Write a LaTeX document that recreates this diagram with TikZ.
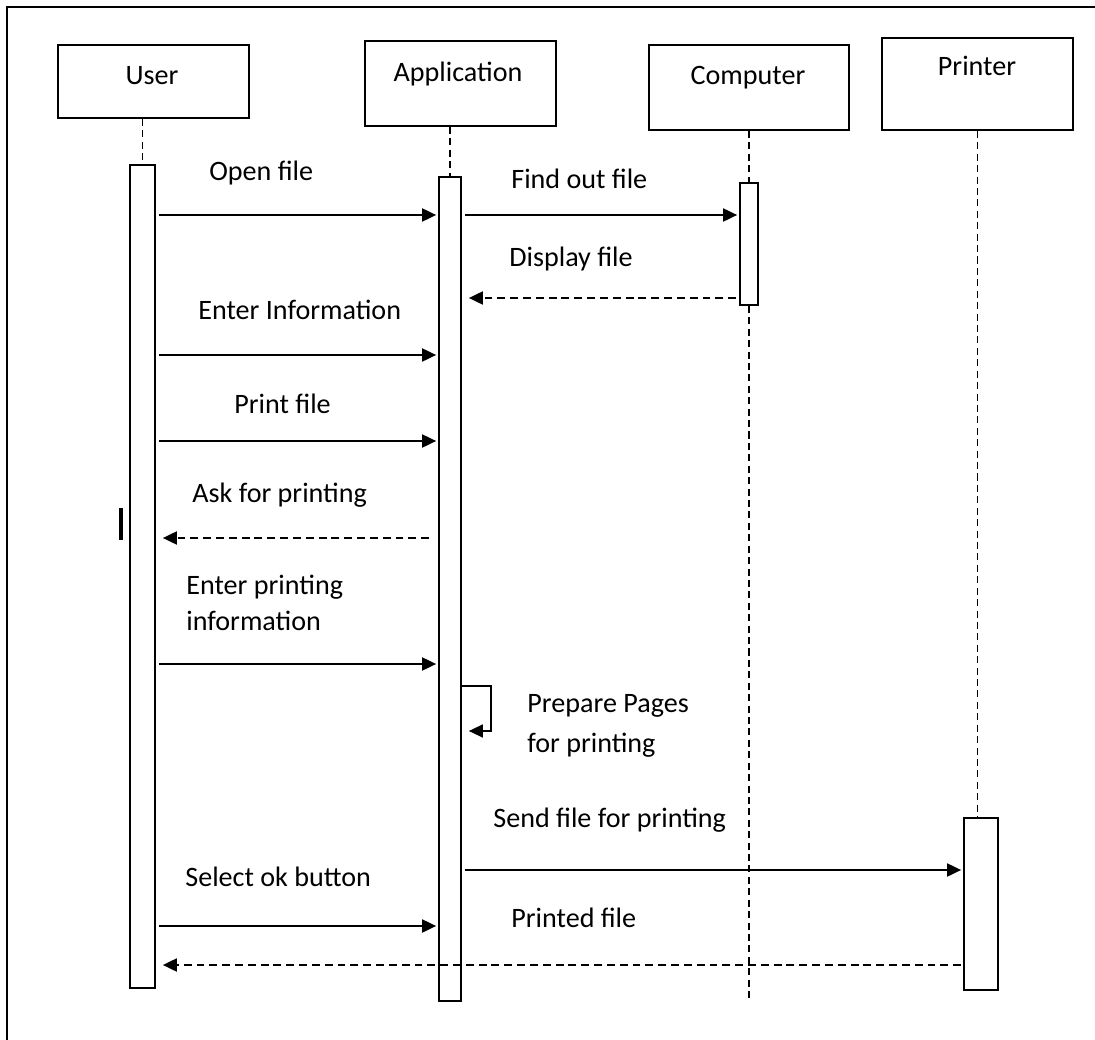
\documentclass[tikz,border=0pt]{standalone}
\usepackage{fontspec}
\setmainfont{Carlito}
\usetikzlibrary{arrows.meta}

\begin{document}
\begin{tikzpicture}[
  x=0.02cm,
  y=-0.02cm,
  every node/.style={font=\fontsize{16}{20}\selectfont, black},
  head/.style={draw, line width=1pt, inner sep=0pt},
  bar/.style={draw, line width=1pt, fill=white, inner sep=0pt},
  life/.style={line width=0.9pt, dash pattern=on 4pt off 2.5pt},
  msg/.style={line width=1.1pt, -{Triangle[length=0.28cm, width=0.26cm]},
              shorten <=0.06cm, shorten >=0.04cm},
  reply/.style={msg, dash pattern=on 4.5pt off 2.8pt, shorten >=0.14cm},
  say/.style={anchor=base west, inner sep=0pt, align=left},
  title/.style={anchor=base, inner sep=0pt}
]

  \useasboundingbox (0,0) rectangle (1095,1040);

  %% ---- frame -----------------------------------------------------------
  \draw[line width=1.2pt] (7,1040) -- (7,7) -- (1095,7);
  \draw[line width=2pt] (121,508) -- (121,540);

  %% ---- heads and activation bars --------------------------------------
  \foreach \n/\x/\y/\w/\h in {user/153.5/81.5/3.82/1.46, app/460.5/83.5/3.82/1.70,
                              comp/749/87.5/4.00/1.70, printer/977.5/84/3.82/1.84}
    \node[head, minimum width=\w cm, minimum height=\h cm] (\n) at (\x,\y) {};

  \node[title] (userlbl) at (152,85) {User};
  \node[title] (applbl) at (458,82) {Application};
  \node[title] (complbl) at (748,85) {Computer};
  \node[title] (printerlbl) at (977,76) {Printer};

  \foreach \n/\x/\y/\w/\h in {ubar/142.5/576.5/0.50/16.46, abar/450/589/0.44/16.48,
                              cbar/749/244/0.36/2.44, pbar/981/904/0.68/3.44}
    \node[bar, minimum width=\w cm, minimum height=\h cm] (\n) at (\x,\y) {};

  %% ---- lifelines -------------------------------------------------------
  \coordinate (cend) at (0,1000);
  \draw[life] (user.south -| ubar) -- (ubar.north);
  \draw[life] (app.south -| abar) -- (abar.north);
  \draw[life] (comp.south -| cbar) -- (cbar.north);
  \draw[life] (cbar.south) -- (cbar.south |- cend);
  \draw[life] (printer.south) -- (printer.south |- pbar.north);

  %% ---- message rows ----------------------------------------------------
  \foreach \n/\y in {open/215, show/298, info/355, print/441, ask/538,
                     pinfo/664, prep/686, send/870, ok/926, done/965}
    \coordinate (\n) at (0,\y);
  \coordinate (selfturn) at (491,731);

  \draw[msg] (ubar.east |- open) -- (abar.west |- open);
  \draw[msg] (abar.east |- open) -- (cbar.west |- open);
  \draw[reply] (cbar.west |- show) -- (abar.east |- show);
  \draw[msg] (ubar.east |- info) -- (abar.west |- info);
  \draw[msg] (ubar.east |- print) -- (abar.west |- print);
  \draw[reply, shorten <=0.18cm] (abar.west |- ask) -- (ubar.east |- ask);
  \draw[msg] (ubar.east |- pinfo) -- (abar.west |- pinfo);
  \draw[msg, line width=0.8pt, shorten <=0pt, shorten >=0.14cm]
    (abar.east |- prep) -| (selfturn) -- (abar.east |- selfturn);
  \draw[msg] (abar.east |- send) -- (pbar.west |- send);
  \draw[msg] (ubar.east |- ok) -- (abar.west |- ok);
  \draw[reply, shorten <=0.04cm] (pbar.west |- done) -- (ubar.east |- done);

  %% ---- message texts ---------------------------------------------------
  % two-line texts: base is the baseline of the last line
  \node[say] (lopen) at (209,181) {Open file};
  \node[say] (lfind) at (511,189) {Find out file};
  \node[say] (lshow) at (509,267) {Display file};
  \node[say] (linfo) at (198,320) {Enter Information};
  \node[say] (lprint) at (234,413) {Print file};
  \node[say] (lask) at (192,502) {Ask for printing};
  \node[say] (lpinfo) at (186,630) {Enter printing\\information};
  \node[say] (lprep) at (527,752) {Prepare Pages\\[2.5pt]for printing};
  \node[say] (lsend) at (493,827) {Send file for printing};
  \node[say] (lok) at (185,886) {Select ok button};
  \node[say] (ldone) at (511,927) {Printed file};

\end{tikzpicture}
\end{document}
